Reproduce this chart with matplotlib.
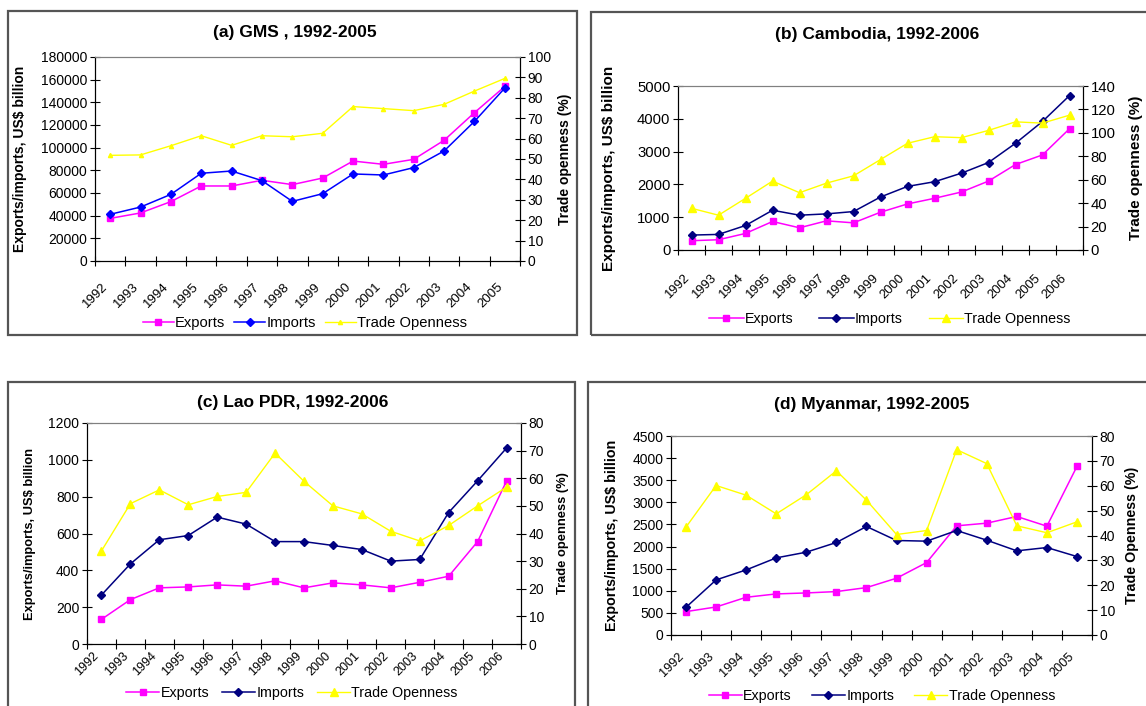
import matplotlib
matplotlib.use('Agg')
import matplotlib.pyplot as plt
from matplotlib.patches import Rectangle
from matplotlib.lines import Line2D
from matplotlib.transforms import ScaledTranslation
import numpy as np

plt.rcParams['font.family'] = ['Liberation Sans', 'DejaVu Sans']

W, H = 1146, 706

# ---- data ----
years_a = [str(y) for y in range(1992, 2006)]
gms_exports = [37600, 42400, 52400, 66200, 66200, 71200, 67400, 73200, 88200, 85300, 89700, 106500, 130900, 154000]
gms_imports = [41200, 47600, 58800, 77400, 79400, 70900, 52600, 59400, 76800, 75900, 82400, 97100, 123200, 152600]
gms_open = [51.8, 52.0, 56.5, 61.4, 56.7, 61.4, 60.9, 62.6, 75.7, 74.7, 73.7, 76.8, 83.3, 89.5]

years_b = [str(y) for y in range(1992, 2007)]
khm_exports = [283, 313, 505, 869, 677, 889, 828, 1152, 1404, 1576, 1768, 2101, 2606, 2899, 3697]
khm_imports = [455, 475, 747, 1212, 1061, 1101, 1172, 1616, 1939, 2081, 2343, 2667, 3253, 3919, 4707]
khm_open = [35.6, 29.7, 44.1, 58.8, 48.9, 57.1, 63.3, 77.2, 91.1, 96.7, 95.9, 102.1, 109.4, 108.3, 115.1]

years_c = [str(y) for y in range(1992, 2007)]
lao_exports = [134, 241, 305, 310, 321, 314, 343, 305, 332, 321, 305, 335, 368, 556, 885]
lao_imports = [266, 435, 566, 589, 689, 651, 556, 556, 535, 513, 450, 459, 714, 886, 1064]
lao_open = [33.7, 50.8, 55.8, 50.4, 53.4, 54.9, 69.1, 58.9, 50.0, 47.1, 40.8, 37.3, 42.9, 50.0, 56.8]

years_d = [str(y) for y in range(1992, 2006)]
mmr_exports = [529, 634, 853, 929, 951, 982, 1072, 1284, 1638, 2469, 2529, 2680, 2461, 3813]
mmr_imports = [627, 1246, 1472, 1744, 1873, 2092, 2454, 2137, 2122, 2363, 2144, 1903, 1978, 1774]
mmr_open = [43.4, 60.1, 56.2, 48.7, 56.4, 66.0, 54.2, 40.4, 42.0, 74.5, 68.9, 43.9, 41.1, 45.5]

fig = plt.figure(figsize=(W / 100, H / 100), dpi=100)


def rect(l, t, r, b):
    return [l / W, 1 - b / H, (r - l) / W, (b - t) / H]


def panel(box, plot, title, title_xy, years, exp, imp, opn, ymax, ystep, rmax, rstep,
          imp_color, rlabel, leg_xy, colspace, lab_x, small_tri=False, lab_size=10,
          tick_size=10, leg_size=10.3, hlen=2.3, xl_size=9.5, xl_pad=14, xl_shift=-6):
    # frame round the panel
    l, t, r, b = box
    fig.patches.append(Rectangle((l / W, 1 - b / H), (r - l) / W, (b - t) / H,
                                 transform=fig.transFigure, fill=False,
                                 edgecolor='#555555', linewidth=1.6))
    ax = fig.add_axes(rect(*plot))
    n = len(years)
    x = np.arange(n)
    ax.plot(x, exp, color='#FF00FF', marker='s', markersize=5, linewidth=1.1)
    ax.plot(x, imp, color=imp_color, marker='D', markersize=4, linewidth=1.1)
    ax.set_xlim(-0.5, n - 0.5)
    ax.set_ylim(0, ymax)
    ax.set_yticks(np.arange(0, ymax + 1, ystep))
    ax.set_xticks(np.arange(n + 1) - 0.5)
    ax.set_xticklabels([])
    ax.set_xticks(x, minor=True)
    ax.set_xticklabels(years, minor=True, rotation=45, ha='right', fontsize=xl_size)
    shift = ScaledTranslation(xl_shift / 100, 0, fig.dpi_scale_trans)
    for lab in ax.get_xticklabels(minor=True):
        lab.set_transform(lab.get_transform() + shift)
    ax.tick_params(axis='x', which='minor', length=0, pad=xl_pad)
    ax.tick_params(axis='x', which='major', direction='inout', length=7)
    ax.tick_params(axis='y', direction='inout', length=7, labelsize=tick_size, pad=2)
    for s in ['left', 'bottom', 'right']:
        ax.spines[s].set_color('black')
    ax.spines['top'].set_color('#808080')

    ax2 = ax.twinx()
    ax2.plot(x, opn, color='#FFFF00', marker='^',
             markersize=3 if small_tri else 6, linewidth=1.0)
    ax2.set_ylim(0, rmax)
    ax2.set_yticks(np.arange(0, rmax + 1, rstep))
    ax2.tick_params(axis='y', direction='inout', length=7, labelsize=tick_size, pad=2)
    ax2.spines['right'].set_color('black')
    ax2.spines['top'].set_color('#808080')

    fig.text(title_xy[0] / W, 1 - title_xy[1] / H, title, ha='center', va='center',
             fontsize=12.5, fontweight='bold')
    cy = 1 - (plot[1] + plot[3]) / 2 / H
    fig.text(lab_x[0] / W, cy, 'Exports/imports, US$ billion', rotation=90,
             ha='center', va='center', fontsize=lab_size, fontweight='bold')
    fig.text(lab_x[1] / W, cy, rlabel, rotation=90,
             ha='center', va='center', fontsize=lab_size, fontweight='bold')

    handles = [
        Line2D([], [], color='#FF00FF', marker='s', markersize=5, linewidth=1.1),
        Line2D([], [], color=imp_color, marker='D', markersize=4, linewidth=1.1),
        Line2D([], [], color='#FFFF00', marker='^', markersize=3 if small_tri else 6,
               linewidth=1.0),
    ]
    fig.legend(handles, ['Exports', 'Imports', 'Trade Openness'], loc='center',
               bbox_to_anchor=(leg_xy[0] / W, 1 - leg_xy[1] / H), ncol=3,
               frameon=False, fontsize=leg_size, handlelength=hlen, handletextpad=0.1,
               columnspacing=colspace, borderpad=0)
    return ax, ax2


panel((8, 11, 577, 335), (95, 57, 520, 261), '(a) GMS , 1992-2005', (295, 33),
      years_a, gms_exports, gms_imports, gms_open, 180000, 20000, 100, 10,
      '#0000FF', 'Trade openness (%)', (305, 323), 0.6, (20, 565), small_tri=True,
      leg_size=10.6, hlen=2.1, xl_size=9.5, xl_pad=14, xl_shift=-6)

panel((591, 12, 1150, 335), (678, 86, 1083, 250), '(b) Cambodia, 1992-2006', (877, 34),
      years_b, khm_exports, khm_imports, khm_open, 5000, 1000, 140, 20,
      '#000080', 'Trade openness (%)', (890, 319), 1.8, (609, 1136), lab_size=11,
      tick_size=10.7, hlen=2.4, xl_size=9.4, xl_pad=16, xl_shift=-8)

panel((8, 382, 575, 712), (87, 423, 521, 644), '(c) Lao PDR, 1992-2006', (293, 403),
      years_c, lao_exports, lao_imports, lao_open, 1200, 200, 80, 10,
      '#000080', 'Trade openness (%)', (292, 693), 0.9, (30, 563), lab_size=9.3,
      xl_size=9, xl_pad=4, xl_shift=-9)

panel((588, 382, 1150, 712), (671, 436, 1092, 635), '(d) Myanmar, 1992-2005', (872, 405),
      years_d, mmr_exports, mmr_imports, mmr_open, 4500, 500, 80, 10,
      '#000080', 'Trade Openness (%)', (882, 696), 1.4, (612, 1132), lab_size=10.3,
      xl_size=9.2, xl_pad=11, xl_shift=-7)

fig.savefig('out.png', dpi=100)
